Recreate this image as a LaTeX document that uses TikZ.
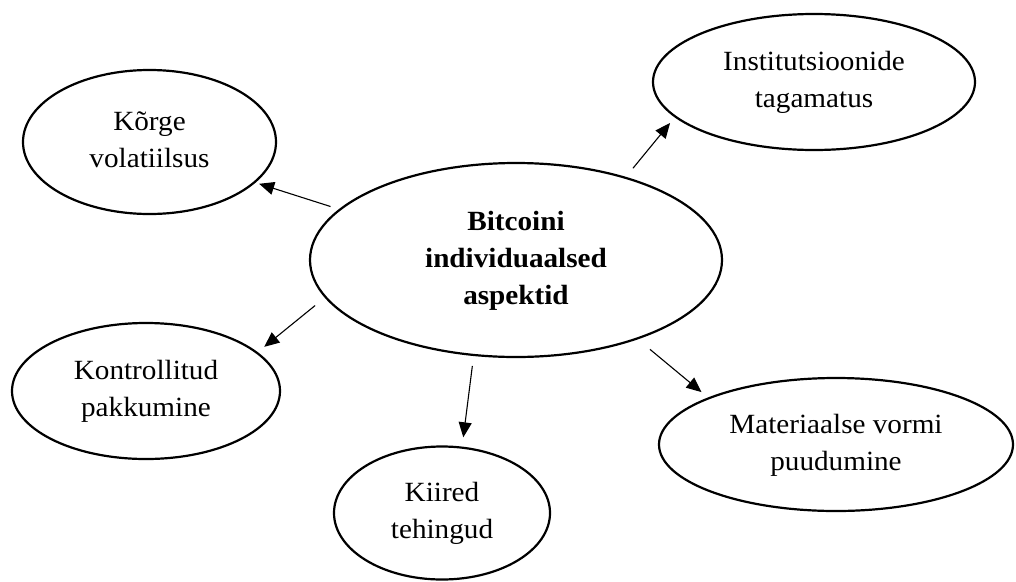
\documentclass[tikz,border=0pt]{standalone}
\usepackage{fontspec}
\setmainfont[FakeStretch=1.05]{Liberation Serif}
\usetikzlibrary{shapes.geometric,arrows.meta}
\begin{document}
\begin{tikzpicture}[x=1pt,y=-1pt,
  bub/.style={ellipse, draw, line width=2.2pt, inner sep=0pt, outer sep=0pt,
    align=center, font=\fontsize{27.8}{37}\selectfont},
  arr/.style={-{Triangle[length=15pt,width=13pt]}, line width=1.1pt}]
\useasboundingbox (0,0) rectangle (1016,581);
\node[bub, font=\fontsize{27.8}{37}\selectfont\bfseries, minimum width=412pt, minimum height=194pt] (c) at (516,260)
  {\strut Bitcoini\\individuaalsed\\aspektid\strut};
\node[bub, minimum width=253pt, minimum height=144pt] (k) at (149.5,142)
  {\strut Kõrge\\volatiilsus\strut};
\node[bub, minimum width=322pt, minimum height=136pt] (i) at (814,82)
  {\strut Institutsioonide\\tagamatus\strut};
\node[bub, minimum width=268pt, minimum height=136pt] (p) at (146,391)
  {\strut Kontrollitud\\pakkumine\strut};
\node[bub, minimum width=216pt, minimum height=133pt] (t) at (442,513)
  {\strut Kiired\\tehingud\strut};
\node[bub, minimum width=354pt, minimum height=133pt] (m) at (836,444.5)
  {\strut Materiaalse vormi\\puudumine\strut};
\draw[arr, shorten <=10pt, shorten >=5pt] (c.164.8) -- (k.339.6);
\draw[arr, shorten <=12.3pt, shorten >=8.4pt] (c.37.4) -- (i.194.0);
\draw[arr, shorten <=13.5pt, shorten >=9.5pt] (c.191.5) -- (p.19.8);
\draw[arr, shorten <=11.1pt, shorten >=10.4pt] (c.246.4) -- (t.73.4);
\draw[arr, shorten <=16.9pt, shorten >=9.6pt] (c.327.9) -- (m.160.7);
\end{tikzpicture}
\end{document}
